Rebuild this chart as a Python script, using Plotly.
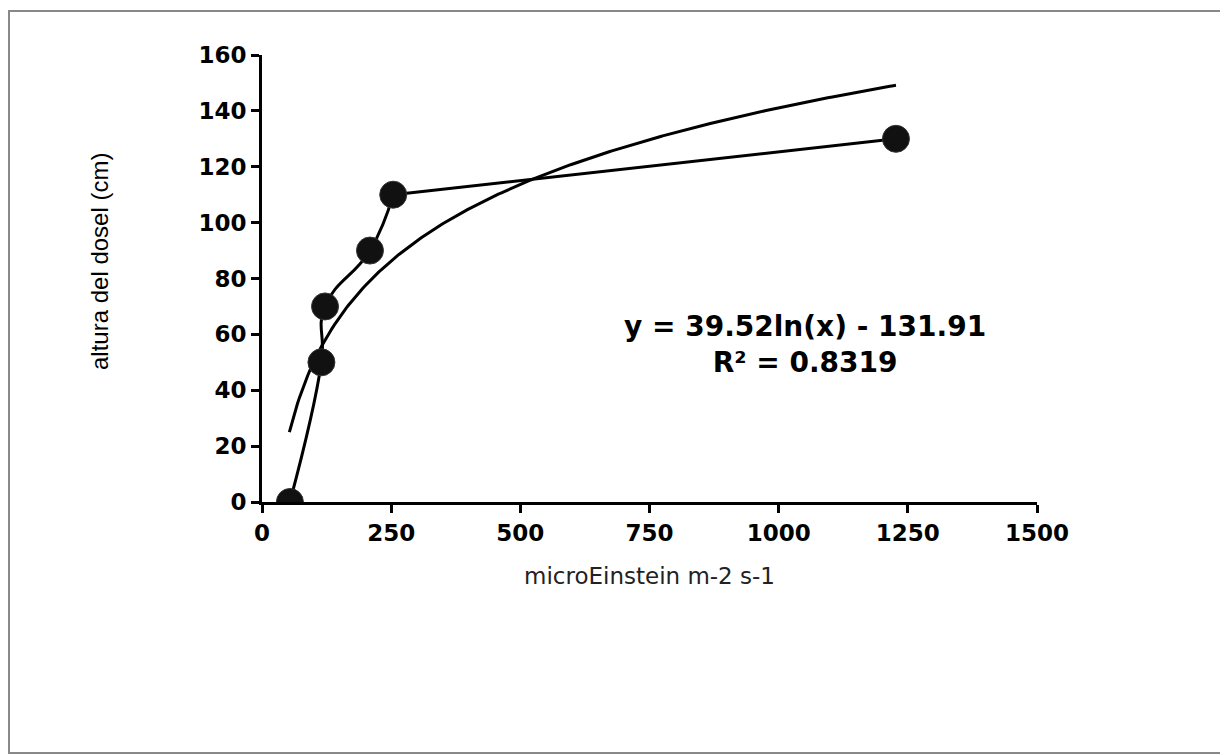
import numpy as np
import plotly.graph_objects as go

# Data
light = [54, 115, 122, 209, 254, 1227]      # microEinstein m-2 s-1
height = [0, 50, 70, 90, 110, 130]          # altura del dosel (cm)

# Logarithmic trendline coefficients (from the chart label)
coef_a = 39.52
coef_b = -131.91
trend_x = np.linspace(53, 1227, 300)
trend_y = coef_a * np.log(trend_x) + coef_b

x_ticks = [0, 250, 500, 750, 1000, 1250, 1500]
y_ticks = [0, 20, 40, 60, 80, 100, 120, 140, 160]

W, H = 1228, 755
L, R, T, B = 254, 199, 47, 261
pw = W - L - R
ph = H - T - B

fig = go.Figure()
fig.add_trace(go.Scatter(
    x=trend_x, y=trend_y, mode="lines",
    line=dict(color="black", width=3), showlegend=False, hoverinfo="skip"))
# smoothed connecting line (Excel-style) over the clustered points
fig.add_trace(go.Scatter(
    x=light[:5], y=height[:5], mode="lines",
    line=dict(color="black", width=3, shape="spline", smoothing=1.3),
    showlegend=False, hoverinfo="skip"))
# last long segment is practically straight
fig.add_trace(go.Scatter(
    x=light[4:], y=height[4:], mode="lines",
    line=dict(color="black", width=3),
    showlegend=False, hoverinfo="skip"))
fig.add_trace(go.Scatter(
    x=light, y=height, mode="markers",
    marker=dict(color="#111111", size=27, line=dict(color="#333", width=1)),
    showlegend=False))

tick_font = dict(family="DejaVu Sans", size=23, color="black", weight="bold")
fig.update_layout(
    width=W, height=H,
    margin=dict(l=L, r=R, t=T, b=B),
    paper_bgcolor="white", plot_bgcolor="white",
    xaxis=dict(range=[0, 1500], tickvals=x_ticks, ticktext=[str(v) for v in x_ticks],
               showgrid=False, zeroline=False, showline=True, linecolor="black", linewidth=3,
               ticks="outside", ticklen=8, tickwidth=3, tickcolor="black",
               tickfont=tick_font,
               title=dict(text="microEinstein m-2 s-1",
                          font=dict(family="DejaVu Sans", size=23, color="#222"), standoff=24)),
    yaxis=dict(range=[0, 160], tickvals=y_ticks, ticktext=[str(v) for v in y_ticks],
               showgrid=False, zeroline=False, showline=True, linecolor="black", linewidth=3,
               ticks="outside", ticklen=8, tickwidth=3, tickcolor="black",
               tickfont=tick_font),
)

# y-axis title placed as rotated annotation
fig.add_annotation(
    x=(99 - 8 - L) / pw, y=1 - (262 - 8 - T) / ph, xref="paper", yref="paper",
    xanchor="center", yanchor="middle",
    text="altura del dosel (cm)", textangle=-90, showarrow=False,
    font=dict(family="Liberation Sans", size=24, color="black"))

# Equation annotation
fig.add_annotation(
    x=1050, y=56.5, xref="x", yref="y",
    text="<b>y = 39.52ln(x) - 131.91<br>R² = 0.8319</b>",
    showarrow=False, align="center",
    font=dict(family="DejaVu Sans", size=28, color="black"))

# Outer frame
fig.add_shape(type="rect", xref="paper", yref="paper",
              x0=(1 - L) / pw, x1=(1240 - L) / pw,
              y0=(H - B - 745) / ph, y1=(H - B - 3) / ph,
              line=dict(color="#888888", width=2), layer="below")

fig.write_html("out.html")
